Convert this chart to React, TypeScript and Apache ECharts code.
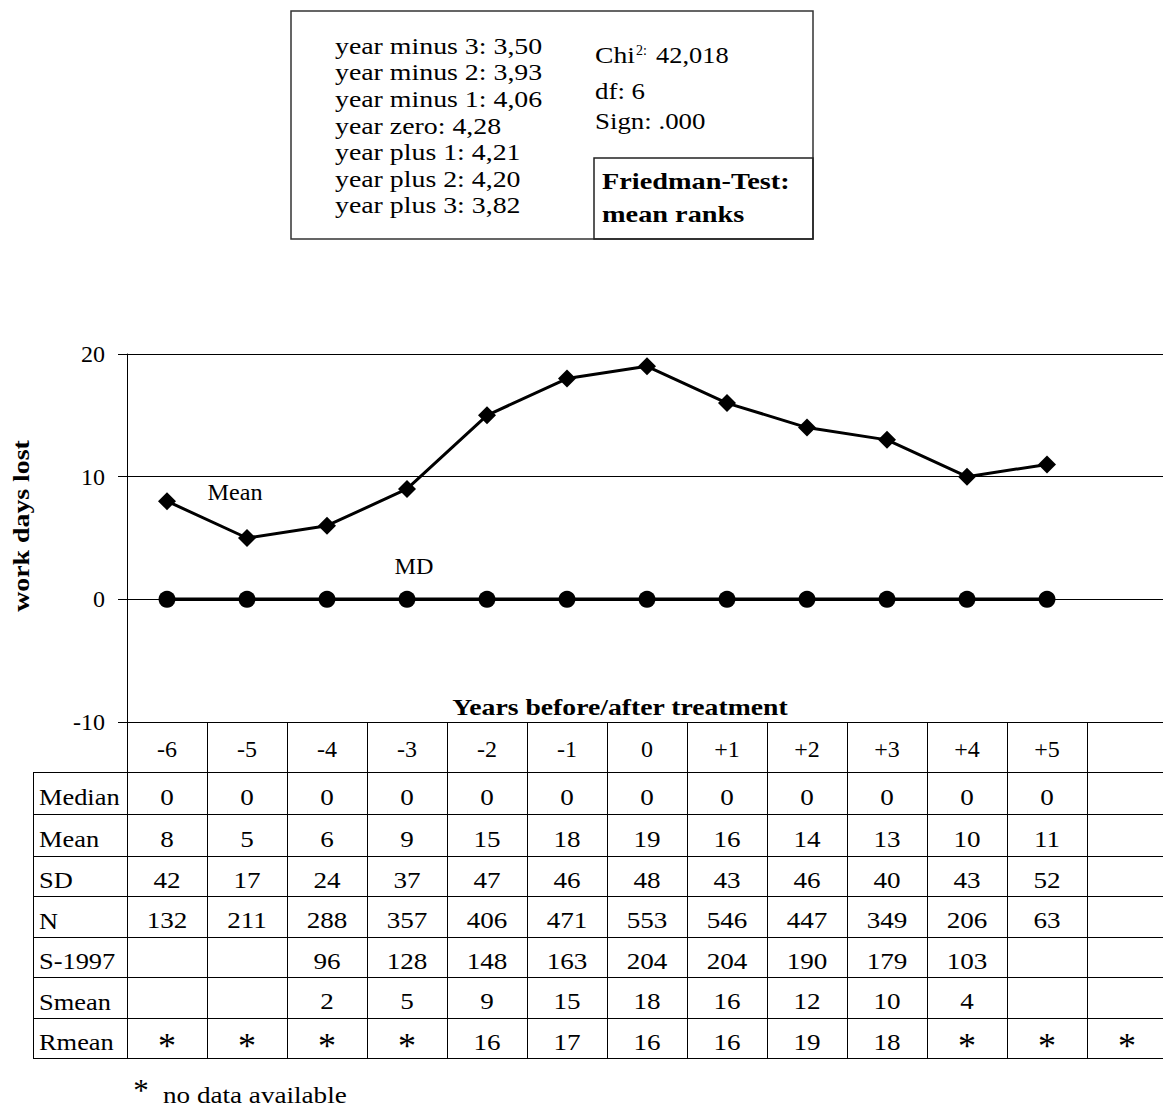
import React, { useEffect, useRef } from "react";
import * as echarts from "echarts";

// ---------- data ----------
const years = ["-6", "-5", "-4", "-3", "-2", "-1", "0", "+1", "+2", "+3", "+4", "+5", " "];
const meanValues = [8, 5, 6, 9, 15, 18, 19, 16, 14, 13, 10, 11];
const medianValues = [0, 0, 0, 0, 0, 0, 0, 0, 0, 0, 0, 0];
const yTicks = { min: -10, max: 20, interval: 10 };

const rowLabels = ["Median", "Mean", "SD", "N", "S-1997", "Smean", "Rmean"];
const rowMedian = ["0", "0", "0", "0", "0", "0", "0", "0", "0", "0", "0", "0", ""];
const rowMean = ["8", "5", "6", "9", "15", "18", "19", "16", "14", "13", "10", "11", ""];
const rowSD = ["42", "17", "24", "37", "47", "46", "48", "43", "46", "40", "43", "52", ""];
const rowN = ["132", "211", "288", "357", "406", "471", "553", "546", "447", "349", "206", "63", ""];
const rowS1997 = ["", "", "96", "128", "148", "163", "204", "204", "190", "179", "103", "", ""];
const rowSmean = ["", "", "2", "5", "9", "15", "18", "16", "12", "10", "4", "", ""];
const rowRmean = ["*", "*", "*", "*", "16", "17", "16", "16", "19", "18", "*", "*", "*"];

const rankLabels = ["year minus 3", "year minus 2", "year minus 1", "year zero", "year plus 1", "year plus 2", "year plus 3"];
const rankValues = ["3,50", "3,93", "4,06", "4,28", "4,21", "4,20", "3,82"];
const chiValue = "42,018";
const dfValue = "6";
const signValue = ".000";

const SERIF = "'Liberation Serif', 'Times New Roman', Times, serif";

export default function App() {
  const ref = useRef<HTMLDivElement>(null);

  useEffect(() => {
    const chart = echarts.init(ref.current!, null, { renderer: "svg" });

    chart.setOption({
      animation: false,
      backgroundColor: "#fff",
      grid: { left: 127, top: 354, width: 1040, height: 368, outerBoundsMode: "none" },
      xAxis: {
        type: "category",
        data: years,
        boundaryGap: true,
        axisLine: { show: true, onZero: false, lineStyle: { color: "#000", width: 1 } },
        axisTick: { show: true, interval: 0, length: 50, alignWithLabel: false, lineStyle: { color: "#000", width: 1 } },
        axisLabel: { interval: 0, margin: 15, fontSize: 24, color: "#000", fontFamily: SERIF },
        splitLine: { show: false },
      },
      yAxis: {
        type: "value",
        min: yTicks.min,
        max: yTicks.max,
        interval: yTicks.interval,
        axisLine: { show: true, lineStyle: { color: "#000", width: 1 } },
        axisTick: { show: true, length: 9, lineStyle: { color: "#000", width: 1 } },
        axisLabel: { margin: 22, fontSize: 24, color: "#000", fontFamily: SERIF },
        splitLine: { show: true, lineStyle: { color: "#000", width: 1 } },
      },
      series: [
        {
          name: "Mean",
          type: "line",
          data: meanValues,
          symbol: "diamond",
          symbolSize: 18,
          lineStyle: { color: "#000", width: 3 },
          itemStyle: { color: "#000" },
          z: 3,
        },
        {
          name: "MD",
          type: "line",
          data: medianValues,
          symbol: "circle",
          symbolSize: 17,
          lineStyle: { color: "#000", width: 3.5 },
          itemStyle: { color: "#000" },
          z: 3,
        },
      ],
    });

    const px = (i: number) => chart.convertToPixel({ xAxisIndex: 0 }, i) as number;
    const bw = px(1) - px(0);

    const els: any[] = [];
    const txt = (
      text: string,
      x: number,
      y: number,
      o: { size?: number; bold?: boolean; align?: string; sx?: number; rot?: number } = {}
    ) => {
      const align = o.align || "center";
      els.push({
        type: "text",
        x,
        y,
        scaleX: o.sx || 1,
        rotation: o.rot || 0,
        silent: true,
        style: {
          text,
          fill: "#000",
          fontSize: o.size || 24,
          fontFamily: SERIF,
          fontWeight: o.bold ? "bold" : "normal",
          align,
          textAlign: align,
          verticalAlign: "middle",
          textVerticalAlign: "middle",
        },
      });
    };
    const line = (x1: number, y1: number, x2: number, y2: number, w = 1, c = "#000") => {
      els.push({ type: "line", silent: true, shape: { x1, y1, x2, y2 }, style: { stroke: c, lineWidth: w } });
    };
    const rect = (x: number, y: number, width: number, height: number, w = 1, c = "#000") => {
      els.push({ type: "rect", silent: true, shape: { x, y, width, height }, style: { fill: "none", stroke: c, lineWidth: w } });
    };

    // ---- top box ----
    rect(291, 11, 522, 228, 1.5, "#333");
    rect(594, 158, 219, 81, 1.5, "#222");
    rankLabels.forEach((l, i) => txt(`${l}: ${rankValues[i]}`, 335, 46 + i * 26.6, { align: "left", sx: 1.16 }));
    txt("Chi", 595, 55, { align: "left", sx: 1.15 });
    txt("2:", 636, 50, { align: "left", size: 14 });
    txt(chiValue, 656, 55, { align: "left", sx: 1.1 });
    txt(`df: ${dfValue}`, 595, 91, { align: "left", sx: 1.12 });
    txt(`Sign: ${signValue}`, 595, 121, { align: "left", sx: 1.12 });
    txt("Friedman-Test:", 602, 181, { align: "left", bold: true, sx: 1.18 });
    txt("mean ranks", 602, 214, { align: "left", bold: true, sx: 1.18 });

    // ---- chart annotations ----
    txt("work days lost", 21, 526, { bold: true, sx: 1.16, rot: Math.PI / 2 });
    txt("Mean", 235, 492, { size: 23, sx: 1.05 });
    txt("MD", 414, 566, { size: 23, sx: 1.05 });
    txt("Years before/after treatment", 620, 707, { bold: true, sx: 1.155 });

    // ---- table ----
    const rowLines = [772, 814, 856, 896, 937, 977, 1018, 1058];
    const tableLeft = 33;
    rowLines.forEach((y) => line(tableLeft, y + 0.5, 1163, y + 0.5));
    line(tableLeft + 0.5, rowLines[0], tableLeft + 0.5, rowLines[rowLines.length - 1]);
    for (let k = 0; k <= years.length; k++) {
      const x = Math.round(px(0) - bw / 2 + k * bw) + 0.5;
      line(x, rowLines[0], x, rowLines[rowLines.length - 1]);
    }
    const rows = [rowMedian, rowMean, rowSD, rowN, rowS1997, rowSmean, rowRmean];
    rows.forEach((vals, r) => {
      const yc = (rowLines[r] + rowLines[r + 1]) / 2 + 4;
      txt(rowLabels[r], 39, yc, { align: "left", sx: 1.1 });
      vals.forEach((v, i) => {
        if (!v) return;
        if (v === "*") txt("*", px(i), yc + 4, { size: 36 });
        else txt(v, px(i), yc, { sx: 1.13 });
      });
    });

    // ---- footnote ----
    txt("*", 141, 1090, { size: 31 });
    txt("no data available", 163, 1095, { align: "left", size: 23, sx: 1.18 });

    chart.setOption({ graphic: { elements: els } });

    return () => chart.dispose();
  }, []);

  return (
    <div
      ref={ref}
      style={{ position: "fixed", left: 0, top: 0, width: 1163, height: 1106, background: "#fff" }}
    />
  );
}
